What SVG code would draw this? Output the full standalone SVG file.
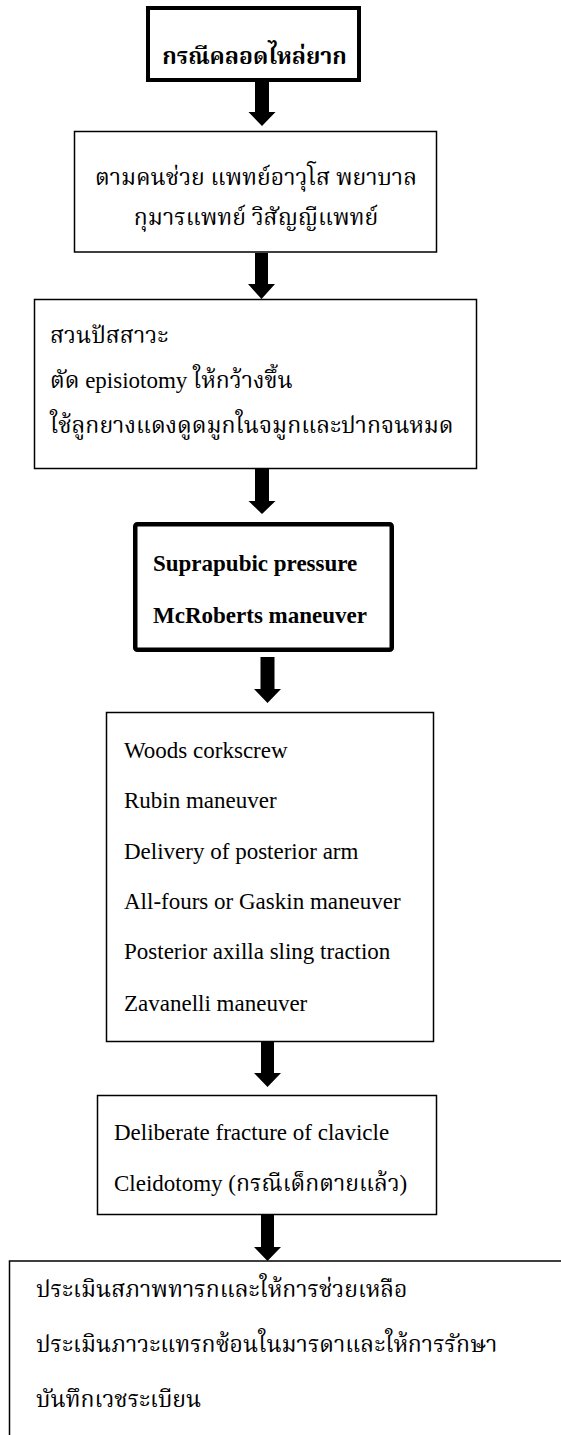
<svg xmlns="http://www.w3.org/2000/svg" width="561" height="1435" viewBox="0 0 561 1435">
<style>
.bg{fill:#fff}
.box{fill:#fff;stroke:#000;stroke-width:1.5}
.thick{fill:#fff;stroke:#000;stroke-width:4}
.t{font-family:"Liberation Serif","Noto Serif Thai","Noto Sans Thai","Loma","Garuda",serif;font-size:23px;fill:#000}
.th{font-family:"Liberation Serif","Noto Serif Thai","Noto Sans Thai","Loma","Garuda",serif;font-size:23px;fill:#000}
.b{font-weight:bold}
.arrow{fill:#000}
</style>
<rect class="bg" x="0" y="0" width="561" height="1435"/>
<g id="connectors">
<polygon class="arrow" points="255,82 269,82 269,112 275.5,112 262,126 248.5,112 255,112"/>
<polygon class="arrow" points="255,253 268,253 268,284 275,284 261.5,299 248,284 255,284"/>
<polygon class="arrow" points="255,469 269,469 269,501 275.5,501 262,514 248.5,501 255,501"/>
<polygon class="arrow" points="260.5,657 274.5,657 274.5,689 281,689 267.5,703 254,689 260.5,689"/>
<polygon class="arrow" points="261,1042 274,1042 274,1073 281,1073 267.5,1087 254,1073 261,1073"/>
<polygon class="arrow" points="261,1215 274,1215 274,1247 281,1247 267.5,1261 254,1247 261,1247"/>
</g>
<g id="n1">
<rect class="thick" x="148" y="8" width="211" height="72"/>
<text class="th b" x="254.5" y="64" text-anchor="middle">กรณีคลอดไหล่ยาก</text>
</g>
<g id="n2">
<rect class="box" x="74.5" y="131.5" width="362" height="120.5"/>
<text class="th" x="256" y="185" text-anchor="middle">ตามคนช่วย แพทย์อาวุโส พยาบาล</text>
<text class="th" x="256" y="225" text-anchor="middle">กุมารแพทย์ วิสัญญีแพทย์</text>
</g>
<g id="n3">
<rect class="box" x="34.5" y="299.5" width="442" height="169"/>
<text class="th" x="50" y="343">สวนปัสสาวะ</text>
<text class="th" x="50" y="388">ตัด episiotomy ให้กว้างขึ้น</text>
<text class="th" x="50" y="433">ใช้ลูกยางแดงดูดมูกในจมูกและปากจนหมด</text>
</g>
<g id="n4">
<rect class="thick" x="135.25" y="524.25" width="256.5" height="125.5" rx="2" style="stroke-width:4.5"/>
<text class="t b" x="153" y="571">Suprapubic pressure</text>
<text class="t b" x="153" y="623">McRoberts maneuver</text>
</g>
<g id="n5">
<rect class="box" x="106.5" y="712.5" width="327" height="329"/>
<text class="t" x="124" y="758">Woods corkscrew</text>
<text class="t" x="124" y="808">Rubin maneuver</text>
<text class="t" x="124" y="859">Delivery of posterior arm</text>
<text class="t" x="124" y="909">All-fours or Gaskin maneuver</text>
<text class="t" x="124" y="959">Posterior axilla sling traction</text>
<text class="t" x="124" y="1011">Zavanelli maneuver</text>
</g>
<g id="n6">
<rect class="box" x="97.5" y="1095.5" width="339" height="119"/>
<text class="t" x="114" y="1140">Deliberate fracture of clavicle</text>
<text class="t" x="114" y="1191">Cleidotomy (กรณีเด็กตายแล้ว)</text>
</g>
<g id="n7">
<rect class="box" x="9.5" y="1261" width="600" height="300"/>
<text class="th" x="36" y="1297">ประเมินสภาพทารกและให้การช่วยเหลือ</text>
<text class="th" x="36" y="1352">ประเมินภาวะแทรกซ้อนในมารดาและให้การรักษา</text>
<text class="th" x="36" y="1407">บันทึกเวชระเบียน</text>
</g>
</svg>
